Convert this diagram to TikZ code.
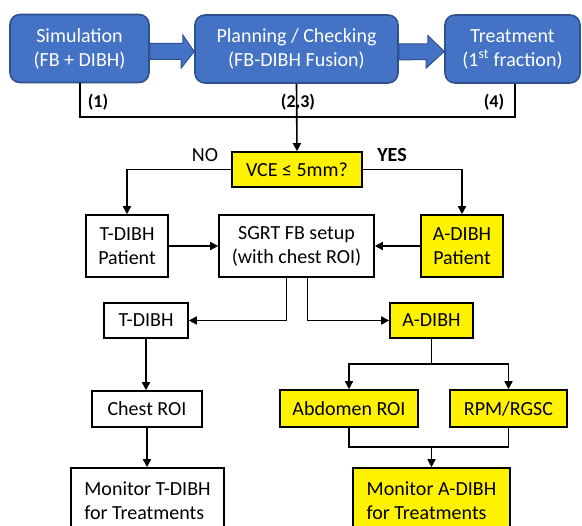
\documentclass[tikz,border=0pt]{standalone}
\usepackage{fontspec}
\setmainfont{Carlito}
\usetikzlibrary{arrows.meta}

\definecolor{stageblue}{HTML}{4472C4}
\definecolor{stageedge}{HTML}{2F528F}

\begin{document}
\begin{tikzpicture}[x=1pt, y=-1pt, line width=1.6pt,
    font=\fontsize{20}{24}\selectfont,
    box/.style={draw, align=center, inner sep=2pt, minimum height=35pt},
    ybox/.style={box, fill=yellow},
    stage/.style={draw=stageedge, fill=stageblue, text=white, rounded corners=10pt,
      align=center, minimum height=68pt},
    blockarr/.style={draw=stageedge, fill=stageblue, line width=1pt},
    arr/.style={-{Triangle[length=8pt, width=8pt]}},
    numlbl/.style={font=\fontsize{18}{20}\selectfont\bfseries}]
    \useasboundingbox (0,0) rectangle (582,526);
    \clip (0,0) rectangle (582,526);

    % Workflow stages
    \node[stage, minimum width=139pt] (sim) at (79.5,48.5) {Simulation\\(FB + DIBH)};
    \node[stage, minimum width=203pt] (plan) at (296.5,49) {Planning / Checking\\(FB-DIBH Fusion)};
    \node[stage, minimum width=135pt] (treat) at (512.5,49) {Treatment\\(1\textsuperscript{st} fraction)};
    \draw[blockarr] ([yshift=5pt]sim.east) -- ++(33,0) -- ++(0,-8.5) -- ([yshift=-2.5pt]plan.west)
        -- ++(-13,16.5) -- ++(0,-8.5) -- ([yshift=-11pt]sim.east) -- cycle;
    \draw[blockarr] ([yshift=5pt]plan.east) -- ++(29,0) -- ++(0,-8.5) -- ([yshift=-2.5pt]treat.west)
        -- ++(-18,16.5) -- ++(0,-8.5) -- ([yshift=-11pt]plan.east) -- cycle;

    % Bracket to decision
    \coordinate (join) at (296.5,117);
    \draw ([xshift=0.5pt]sim.south) |- (join);
    \draw ([xshift=2.5pt]treat.south) |- (join);
    \node[numlbl] (n1) at (98,102) {(1)};
    \node[numlbl] (n23) at (298,102) {(2,3)};
    \node[numlbl] (n4) at (494,102) {(4)};

    % Decision
    \node[ybox, minimum width=130pt] (vce) at (297,169.5) {VCE ≤ 5mm?};
    \draw[arr] (plan.south) -- (vce.north);
    \node (no) at (205,155) {NO};
    \node[font=\fontsize{20}{24}\selectfont\bfseries] (yes) at (392,155) {YES};

    % Patient types and setup
    \node[box, minimum width=82pt, minimum height=62pt] (tpat) at (127,246) {T-DIBH\\Patient};
    \node[box, minimum width=155pt, minimum height=62pt] (sgrt) at (296.5,246) {SGRT FB setup\\(with chest ROI)};
    \node[ybox, minimum width=82pt, minimum height=62pt] (apat) at (462,246) {A-DIBH\\Patient};
    \draw[arr] (vce.west) -| (tpat.north);
    \draw[arr] (vce.east) -| (apat.north);
    \draw[arr] (tpat.east) -- (sgrt.west);
    \draw[arr] (apat.west) -- (sgrt.east);

    % T-DIBH branch
    \node[box, minimum width=84pt] (tdibh) at (146,320.5) {T-DIBH};
    \node[box, minimum width=110pt, minimum height=36pt] (chest) at (147,409) {Chest ROI};
    \node[box, align=left, minimum width=153pt, minimum height=66pt] (mont) at (147.5,501)
        {Monitor T-DIBH\\for Treatments};
    \draw[arr] ([xshift=-10pt]sgrt.south) |- (tdibh.east);
    \draw[arr] (tdibh.south) -- (tdibh.south |- chest.north);
    \draw[arr] (chest.south) -- (chest.south |- mont.north);

    % A-DIBH branch
    \node[ybox, minimum width=83pt] (adibh) at (431.5,320.5) {A-DIBH};
    \node[ybox, minimum width=138pt, minimum height=37pt] (abd) at (349,408.5) {Abdomen ROI};
    \node[ybox, minimum width=117pt, minimum height=37pt] (rpm) at (508.5,408.5) {RPM/RGSC};
    \node[ybox, align=left, minimum width=157pt, minimum height=66pt] (mona) at (431.5,501)
        {Monitor A-DIBH\\for Treatments};
    \draw[arr] ([xshift=11pt]sgrt.south) |- (adibh.west);
    \coordinate (split) at (431.5,364);
    \coordinate (merge) at (431.5,447);
    \draw (adibh.south) -- (split);
    \draw[arr] (split) -| (abd.north);
    \draw[arr] (split) -| (rpm.north);
    \draw (abd.south) |- (merge) -| (rpm.south);
    \draw[arr] (merge) -- (mona.north);
\end{tikzpicture}
\end{document}
